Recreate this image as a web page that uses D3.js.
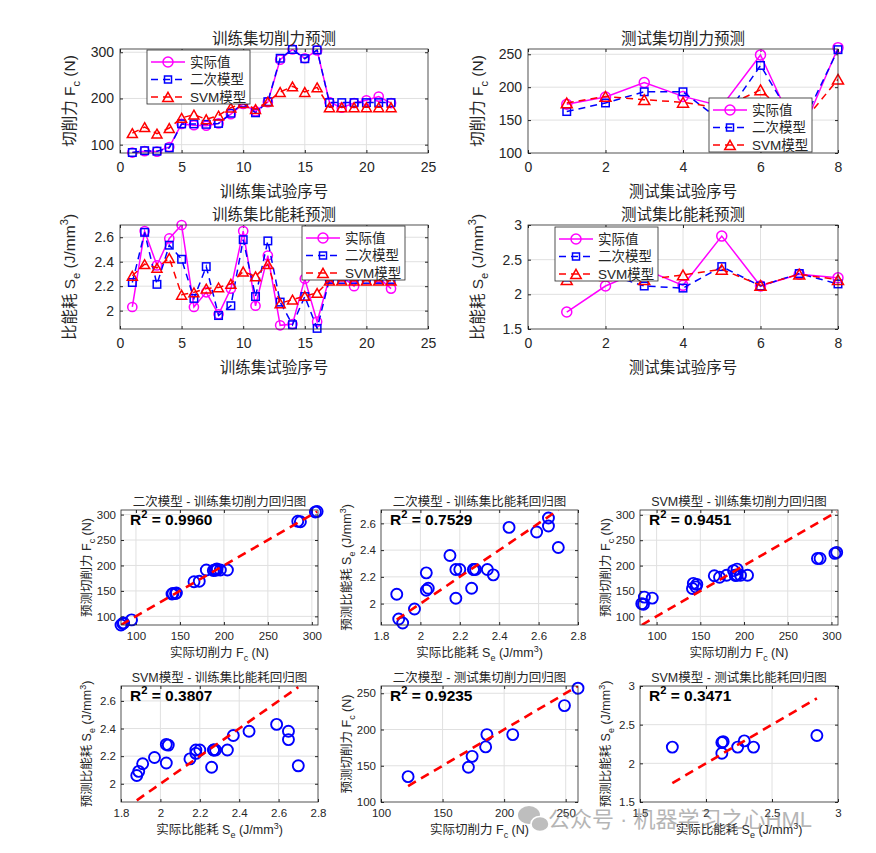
<!DOCTYPE html>
<html><head><meta charset="utf-8">
<script src="https://cdn.jsdelivr.net/npm/d3@7"></script>
<style>
body{margin:0;background:#fff;}
svg{display:block;font-family:"Liberation Sans",Arial,"Noto Sans CJK SC",sans-serif;}
</style>
</head><body>
<svg id="c" width="876" height="853"></svg>
<script>
// ---------------- DATA ----------------
const trainIdx = d3.range(1, 23);
const testIdx = d3.range(1, 9);

const trainFcActual = [83, 86, 85, 95, 145, 142, 141, 146, 166, 188, 172, 192, 284, 306, 287, 304, 192, 180, 190, 196, 204, 190];
const trainFcQuad   = [83, 87, 86, 93, 145, 145, 144, 146, 168, 190, 169, 193, 287, 306, 286, 305, 191, 191, 191, 191, 191, 191];
const trainFcSVM    = [125, 138, 124, 136, 158, 165, 155, 163, 180, 190, 177, 193, 214, 226, 214, 224, 181, 181, 181, 181, 181, 181];

const trainSeActual = [2.03, 2.65, 2.37, 2.59, 2.70, 2.03, 2.15, 1.97, 2.18, 2.65, 2.04, 2.45, 1.88, 1.89, 2.26, 1.91, 2.27, 2.28, 2.20, 2.34, 2.27, 2.18];
const trainSeQuad   = [2.23, 2.64, 2.215, 2.535, 2.42, 2.10, 2.36, 1.96, 2.04, 2.58, 2.115, 2.57, 2.07, 1.885, 2.115, 1.855, 2.255, 2.255, 2.255, 2.255, 2.255, 2.255];
const trainSeSVM    = [2.285, 2.38, 2.35, 2.43, 2.13, 2.15, 2.18, 2.19, 2.22, 2.32, 2.28, 2.38, 2.06, 2.09, 2.12, 2.145, 2.245, 2.245, 2.245, 2.245, 2.245, 2.245];

const testFcActual = [174, 185, 207, 186, 171, 249, 122, 260];
const testFcQuad   = [163, 176, 193, 193, 148, 233, 135, 257];
const testFcSVM    = [176, 186, 181, 177, 168, 196, 140, 212];

const testSeActual = [1.745, 2.12, 2.36, 2.13, 2.84, 2.12, 2.29, 2.24];
const testSeQuad   = [2.25, 2.30, 2.12, 2.09, 2.40, 2.12, 2.30, 2.15];
const testSeSVM    = [2.21, 2.27, 2.21, 2.28, 2.36, 2.13, 2.29, 2.21];

const seriesNames = ['实际值', '二次模型', 'SVM模型'];
const r2Values = ['0.9960', '0.7529', '0.9451', '0.3807', '0.9235', '0.3471'];

const ticksTrainX = [0, 5, 10, 15, 20, 25];
const ticksTestX = [0, 2, 4, 6, 8];
const ticksFcTrainY = [100, 200, 300];
const ticksFcTestY = [100, 150, 200, 250];
const ticksSeTrainY = [2, 2.2, 2.4, 2.6];
const ticksSeTestY = [1.5, 2, 2.5, 3];
const ticksFcReg = [100, 150, 200, 250, 300];
const ticksSeReg = [1.8, 2, 2.2, 2.4, 2.6, 2.8];
const ticksSeRegY = [2, 2.2, 2.4, 2.6];
const ticksFcTestReg = [100, 150, 200, 250];
const ticksSeTestReg = [1.5, 2, 2.5, 3];

// ---------------- STYLE ----------------
const AX = '#262626', GRID = '#e0e0e0';
const MAG = '#ff00ff', BLU = '#0000ff', RED = '#ff0000';
const styles = [
  {color: MAG, dash: null, marker: 'circle'},
  {color: BLU, dash: '7,5', marker: 'square'},
  {color: RED, dash: '7,5', marker: 'triangle'}
];
const svg = d3.select('#c');
const fmt = d => String(+(+d).toFixed(2));

const fcLabel = (pre) => [[pre + ' F'], ['c', 'sub'], [' (N)']];
const seLabel = (pre) => [[pre + ' S'], ['e', 'sub'], [' (J/mm'], ['3', 'sup'], [')']];

function rich(g, x, y, parts, fs, opts = {}) {
  const t = g.append('text').attr('x', x).attr('y', y).attr('font-size', fs)
    .attr('fill', opts.fill || AX).attr('text-anchor', opts.anchor || 'middle');
  if (opts.rotate) t.attr('transform', `rotate(-90,${x},${y})`);
  if (opts.weight) t.attr('font-weight', opts.weight);
  let cur = 0;
  parts.forEach(([s, k]) => {
    const target = k === 'sub' ? fs * 0.3 : k === 'sup' ? -fs * 0.42 : 0;
    const ts = t.append('tspan').text(s).attr('dy', target - cur);
    cur = target;
    if (k) ts.attr('font-size', fs * 0.72);
  });
  return t;
}

function makeAxes(o) {
  const x = d3.scaleLinear().domain(o.xd).range([o.x0, o.x1]);
  const y = d3.scaleLinear().domain(o.yd).range([o.y1, o.y0]);
  const g = svg.append('g');
  g.selectAll(null).data(o.xt.filter(d => x(d) > o.x0 + 0.5 && x(d) < o.x1 - 0.5)).join('line')
    .attr('x1', d => x(d)).attr('x2', d => x(d)).attr('y1', o.y0).attr('y2', o.y1)
    .attr('stroke', GRID).attr('stroke-width', 1);
  g.selectAll(null).data(o.yt.filter(d => y(d) > o.y0 + 0.5 && y(d) < o.y1 - 0.5)).join('line')
    .attr('y1', d => y(d)).attr('y2', d => y(d)).attr('x1', o.x0).attr('x2', o.x1)
    .attr('stroke', GRID).attr('stroke-width', 1);
  const style = (a) => a.attr('color', AX).attr('font-size', o.fs).attr('font-family', '"Liberation Sans",Arial,sans-serif')
    .call(s => s.select('.domain').remove());
  g.append('g').attr('transform', `translate(0,${o.y1})`)
    .call(d3.axisBottom(x).tickValues(o.xt).tickFormat(fmt).tickSizeInner(-3).tickSizeOuter(0).tickPadding(o.px))
    .call(style);
  g.append('g').attr('transform', `translate(${o.x0},0)`)
    .call(d3.axisLeft(y).tickValues(o.yt).tickFormat(fmt).tickSizeInner(-3).tickSizeOuter(0).tickPadding(o.py))
    .call(style);
  g.append('g').attr('transform', `translate(0,${o.y0})`)
    .call(d3.axisTop(x).tickValues(o.xt).tickFormat('').tickSizeInner(-3).tickSizeOuter(0)).call(style);
  g.append('g').attr('transform', `translate(${o.x1},0)`)
    .call(d3.axisRight(y).tickValues(o.yt).tickFormat('').tickSizeInner(-3).tickSizeOuter(0)).call(style);
  g.selectAll('.tick text').attr('fill', AX);
  return {x, y, g};
}

function box(o) {
  svg.append('rect').attr('x', o.x0).attr('y', o.y0).attr('width', o.x1 - o.x0).attr('height', o.y1 - o.y0)
    .attr('fill', 'none').attr('stroke', AX).attr('stroke-width', 0.8);
}

function marker(g, type, cx, cy, color, sz) {
  if (type === 'circle') {
    g.append('circle').attr('cx', cx).attr('cy', cy).attr('r', sz.c)
      .attr('fill', 'none').attr('stroke', color).attr('stroke-width', 1.5);
  } else if (type === 'square') {
    g.append('rect').attr('x', cx - sz.s / 2).attr('y', cy - sz.s / 2).attr('width', sz.s).attr('height', sz.s)
      .attr('fill', 'none').attr('stroke', color).attr('stroke-width', 1.5);
  } else {
    const w = sz.t, h = sz.t * 0.88;
    g.append('path').attr('d', `M${cx},${cy - h / 2}L${cx + w / 2},${cy + h / 2}L${cx - w / 2},${cy + h / 2}Z`)
      .attr('fill', 'none').attr('stroke', color).attr('stroke-width', 1.5).attr('stroke-linejoin', 'miter');
  }
}

function legend(x0, y0) {
  const g = svg.append('g');
  g.append('rect').attr('x', x0).attr('y', y0).attr('width', 103).attr('height', 54)
    .attr('fill', '#fff').attr('stroke', AX).attr('stroke-width', 0.8);
  const sz = {c: 5, s: 7, t: 10.5};
  styles.forEach((st, i) => {
    const yy = y0 + 12 + i * 17.5;
    g.append('line').attr('x1', x0 + 4).attr('x2', x0 + 38).attr('y1', yy).attr('y2', yy)
      .attr('stroke', st.color).attr('stroke-width', 1.5).attr('stroke-dasharray', st.dash);
    marker(g, st.marker, x0 + 21, yy, st.color, sz);
    g.append('text').attr('x', x0 + 43).attr('y', yy).attr('dy', '0.36em').attr('font-size', 13.5)
      .attr('fill', AX).text(seriesNames[i]);
  });
}

// ---------------- LINE PLOTS ----------------
const linePlots = [
  {x0: 120, x1: 428, y0: 49, y1: 153, xd: [0, 25], yd: [82, 307], xt: ticksTrainX, yt: ticksFcTrainY,
   idx: trainIdx, data: [trainFcActual, trainFcQuad, trainFcSVM], title: '训练集切削力预测',
   xlab: '训练集试验序号', ylab: fcLabel('切削力'), leg: [147, 50], sz: {c: 4.6, s: 7.5, t: 10}},
  {x0: 528, x1: 838, y0: 49, y1: 153, xd: [0, 8], yd: [100, 258], xt: ticksTestX, yt: ticksFcTestY,
   idx: testIdx, data: [testFcActual, testFcQuad, testFcSVM], title: '测试集切削力预测',
   xlab: '测试集试验序号', ylab: fcLabel('切削力'), leg: [709, 98], sz: {c: 5, s: 7.5, t: 11}},
  {x0: 120, x1: 428, y0: 225, y1: 329, xd: [0, 25], yd: [1.85, 2.70], xt: ticksTrainX, yt: ticksSeTrainY,
   idx: trainIdx, data: [trainSeActual, trainSeQuad, trainSeSVM], title: '训练集比能耗预测',
   xlab: '训练集试验序号', ylab: seLabel('比能耗'), leg: [302, 226], sz: {c: 4.6, s: 7.5, t: 10}},
  {x0: 528, x1: 838, y0: 225, y1: 329, xd: [0, 8], yd: [1.5, 3], xt: ticksTestX, yt: ticksSeTestY,
   idx: testIdx, data: [testSeActual, testSeQuad, testSeSVM], title: '测试集比能耗预测',
   xlab: '测试集试验序号', ylab: seLabel('比能耗'), leg: [555, 227], sz: {c: 5, s: 7.5, t: 11}}
];

linePlots.forEach((p, pi) => {
  const {x, y, g} = makeAxes({...p, fs: 14, px: 9, py: 6});
  const clipId = 'clipL' + pi;
  svg.append('clipPath').attr('id', clipId).append('rect')
    .attr('x', p.x0).attr('y', p.y0).attr('width', p.x1 - p.x0).attr('height', p.y1 - p.y0);
  p.data.forEach((vals, si) => {
    const st = styles[si];
    const line = d3.line().x((d, i) => x(p.idx[i])).y(d => y(d));
    svg.append('path').datum(vals).attr('d', line).attr('fill', 'none')
      .attr('stroke', st.color).attr('stroke-width', 1.5).attr('stroke-dasharray', st.dash)
      .attr('clip-path', `url(#${clipId})`);
    const mg = svg.append('g');
    vals.forEach((v, i) => marker(mg, st.marker, x(p.idx[i]), y(v), st.color, p.sz));
  });
  box(p);
  legend(p.leg[0], p.leg[1]);
  const tg = svg.append('g');
  tg.append('text').attr('x', (p.x0 + p.x1) / 2).attr('y', p.y0 - 5).attr('text-anchor', 'middle')
    .attr('font-size', 15.5).attr('fill', AX).text(p.title);
  tg.append('text').attr('x', (p.x0 + p.x1) / 2).attr('y', p.y1 + 44).attr('text-anchor', 'middle')
    .attr('font-size', 15.5).attr('fill', AX).text(p.xlab);
  rich(tg, p.x0 - 45, (p.y0 + p.y1) / 2, p.ylab, 15.5, {rotate: true});
});

// ---------------- REGRESSION PLOTS ----------------
const regPlots = [
  {x0: 121, x1: 318, y0: 510, y1: 625, xd: [83, 307], yd: [83, 309], xt: ticksFcReg, yt: ticksFcReg,
   act: trainFcActual, pred: trainFcQuad, title: '二次模型 - 训练集切削力回归图', kind: 'fc'},
  {x0: 381, x1: 578, y0: 510, y1: 625, xd: [1.8, 2.8], yd: [1.84, 2.70], xt: ticksSeReg, yt: ticksSeRegY,
   act: trainSeActual, pred: trainSeQuad, title: '二次模型 - 训练集比能耗回归图', kind: 'se'},
  {x0: 640, x1: 838, y0: 510, y1: 625, xd: [81, 307.5], yd: [83, 309.5], xt: ticksFcReg, yt: ticksFcReg,
   act: trainFcActual, pred: trainFcSVM, title: 'SVM模型 - 训练集切削力回归图', kind: 'fc'},
  {x0: 121, x1: 318, y0: 686, y1: 802, xd: [1.8, 2.8], yd: [1.868, 2.708], xt: ticksSeReg, yt: ticksSeRegY,
   act: trainSeActual, pred: trainSeSVM, title: 'SVM模型 - 训练集比能耗回归图', kind: 'se'},
  {x0: 381, x1: 578, y0: 686, y1: 802, xd: [100, 260], yd: [100, 260], xt: ticksFcTestReg, yt: ticksFcTestReg,
   act: testFcActual, pred: testFcQuad, title: '二次模型 - 测试集切削力回归图', kind: 'fc'},
  {x0: 640, x1: 838, y0: 686, y1: 802, xd: [1.5, 3], yd: [1.5, 3], xt: ticksSeTestReg, yt: ticksSeTestReg,
   act: testSeActual, pred: testSeSVM, title: 'SVM模型 - 测试集比能耗回归图', kind: 'se'}
];

regPlots.forEach((p, pi) => {
  const {x, y} = makeAxes({...p, fs: 11.5, px: 7, py: 5});
  const clipId = 'clipR' + pi;
  svg.append('clipPath').attr('id', clipId).append('rect')
    .attr('x', p.x0).attr('y', p.y0).attr('width', p.x1 - p.x0).attr('height', p.y1 - p.y0);
  const g = svg.append('g');
  g.selectAll(null).data(p.act).join('circle')
    .attr('cx', d => x(d)).attr('cy', (d, i) => y(p.pred[i])).attr('r', 5.5)
    .attr('fill', 'none').attr('stroke', BLU).attr('stroke-width', 1.9);
  const [mn, mx] = d3.extent(p.act);
  svg.append('line').attr('x1', x(mn)).attr('y1', y(mn)).attr('x2', x(mx)).attr('y2', y(mx))
    .attr('stroke', RED).attr('stroke-width', 2.6).attr('stroke-dasharray', '9,6')
    .attr('clip-path', `url(#${clipId})`);
  box(p);
  const tg = svg.append('g');
  tg.append('text').attr('x', (p.x0 + p.x1) / 2).attr('y', p.y0 - 4).attr('text-anchor', 'middle')
    .attr('font-size', 12.5).attr('fill', AX).text(p.title);
  rich(tg, p.x0 + 9, p.y0 + 15, [['R'], ['2', 'sup'], [' = ' + r2Values[pi]]], 15.5,
    {anchor: 'start', weight: 'bold', fill: '#000'});
  const lab = p.kind === 'fc' ? fcLabel : seLabel;
  rich(tg, (p.x0 + p.x1) / 2, p.y1 + 32, lab(p.kind === 'fc' ? '实际切削力' : '实际比能耗'), 12.5);
  rich(tg, p.x0 - 30, (p.y0 + p.y1) / 2, lab(p.kind === 'fc' ? '预测切削力' : '预测比能耗'), 12.5, {rotate: true});
});

// ---------------- WATERMARK ----------------
const wm = svg.append('g').attr('opacity', 0.55);
wm.append('ellipse').attr('cx', 529).attr('cy', 815).attr('rx', 11).attr('ry', 9).attr('fill', '#8a8a8a');
wm.append('ellipse').attr('cx', 540).attr('cy', 824).attr('rx', 9).attr('ry', 7.5).attr('fill', '#8a8a8a')
  .attr('stroke', '#fff').attr('stroke-width', 1.5);
wm.append('text').attr('x', 548).attr('y', 827).attr('font-size', 22).attr('fill', '#7a7a7a')
  .text('公众号 · 机器学习之心HML');
</script>
</body></html>
